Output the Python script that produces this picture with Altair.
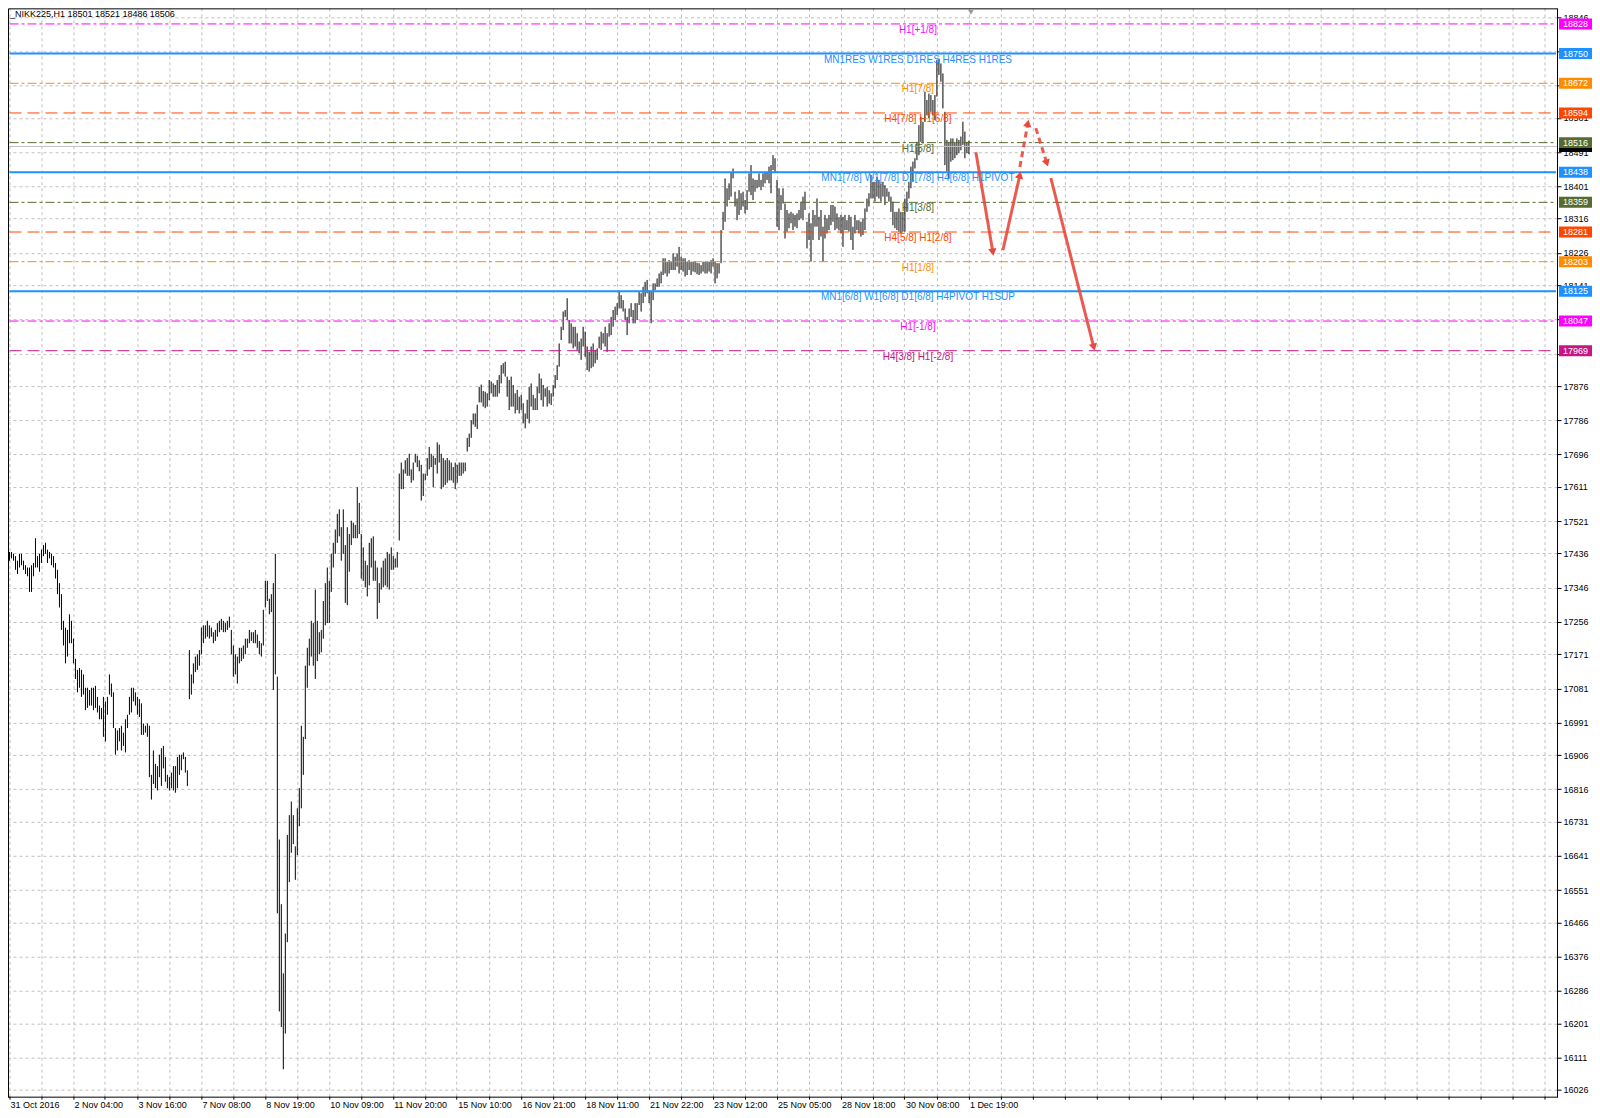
import json
import math
import altair as alt
import pandas as pd

# ---------------- bar data (high / low of each H1 bar) -------------
HIGH_A = [17440,17440,17435,17429,17417,17435,17435,17417,17405,17399,
          17399,17405,17411,17476,17429,17435,17446,17458,17464,17446,
          17440,17435,17429,17411,17393,17358,17329,17259,17241,17235,
          17276,17259,17212,17159,17130,17135,17130,17118,17083,17083,
          17077,17083,17083,17088,17059,17036,17030,17059,17047,17059,
          17118,17094,17071,16977,16971,16977,16983,16965,17000,17012,
          17059,17083,17083,17071,17059,17053,17042,16989,16983,16989,
          16983,16854,16918,16883,16877,16907,16924,16930,16901,16854,
          16848,16860,16877,16877,16901,16907,16907,16913,16901,16866]
LOW_A = [17417,17423,17417,17393,17382,17399,17405,17393,17382,17376,
         17335,17335,17376,17399,17399,17388,17411,17429,17435,17411,
         17423,17405,17399,17370,17329,17294,17235,17194,17147,17165,
         17200,17200,17147,17106,17071,17083,17059,17065,17024,17030,
         17036,17036,17024,17030,17018,17000,17000,16954,16942,17012,
         17065,17059,16977,16907,16918,16942,16918,16930,16913,16977,
         17012,17018,17047,17036,17012,17006,16959,16959,16965,16954,
         16848,16789,16830,16819,16813,16848,16825,16871,16836,16819,
         16813,16819,16813,16807,16819,16854,16866,16895,16860,16825]

HIGH_B = [17182,17118,17147,17165,17171,17182,17241,17247,17247,17259,
          17247,17241,17229,17235,17253,17259,17264,17259,17253,17259,
          17270,17235,17194,17171,17165,17188,17188,17194,17212,17212,
          17235,17229,17229,17235,17223,17206,17200,17288,17364,17364,
          17317,17329,17358,17435]
LOW_B = [17053,17065,17094,17124,17130,17141,17171,17200,17212,17217,
         17212,17217,17200,17206,17217,17229,17235,17229,17229,17235,
         17241,17171,17112,17118,17094,17147,17153,17159,17171,17188,
         17200,17206,17200,17200,17188,17171,17165,17194,17294,17311,
         17276,17282,17077,17118]

HIGH_C = [17112,16684,16514,16332,16437,16696,16748,16784,16748,16666,
          16766,16819,16983,16954,17141,17188,17212,17259,17253,17341,
          17259,17229,17235,17311,17358,17399,17364,17435,17464,17499,
          17540,17552,17505,17552,17458,17505,17487,17522,17517,17511,
          17610,17569,17487,17452,17417,17405,17464,17476,17481,17417,
          17399,17358,17399,17417,17423,17440,17435,17452,17429,17423,
          17440]
LOW_C = [16490,16232,16191,16080,16174,16414,16572,16649,16672,16578,
         16643,16719,16766,16854,16948,17083,17141,17165,17141,17106,
         17153,17171,17176,17212,17247,17253,17253,17335,17399,17435,
         17464,17481,17417,17435,17306,17300,17388,17458,17476,17476,
         17476,17487,17370,17364,17347,17323,17352,17399,17364,17364,
         17264,17306,17341,17347,17352,17347,17341,17393,17393,17399,
         17399]

HIGH_D = [17646,17675,17657,17681,17687,17698,17657,17675,17698,17693,
          17681,17669,17646,17646,17687,17716,17698,17693,17687,17728,
          17722,17698,17687,17681,17687,17681,17675,17663,17675,17669,
          17675,17675,17675,17675,17740,17751,17786,17804,17804,17827,
          17874,17880,17863]
LOW_D = [17470,17605,17605,17646,17640,17640,17622,17628,17675,17663,
         17652,17575,17587,17628,17640,17657,17663,17610,17669,17646,
         17675,17605,17610,17616,17622,17628,17628,17622,17605,17622,
         17640,17640,17646,17652,17704,17716,17740,17775,17769,17763,
         17833,17833,17822]

HIGH_E = [17861,17857,17892,17888,17883,17879,17892,17905,17931,17936,
          17940,17901,17892,17901,17879,17857,17866,17848,17853,17831,
          17804,17840,
          17874,17883,17853,17844,17874,17909,17896,17879,17870,17874,
          17865,
          17857,17879,17905,17931,17988,18032,18072,18076,18107,18050,
          18041,18032,18032,18015,17993,18001,18032,18019,17980,17966,
          17980,17988,17971,17975,18006,18019,18015,18032,18015,18041,
          18058,18076,18085,18094,18124,18115,18102,18080,18058,18080,
          18094,18076,18094,18094,18124,18120,18137,18150,18155,18128,
          18124,18146,18146,18159,18172,18177,18212,18212,18203,18207,
          18203,18225,18216,18225,18242,18216,18212,18212,18203,18207,
          18203,18203,
          18205,18200,
          18199,18194,18203,18203,18203,18203,18207,18212,18203,18199,
          18199,18286,18334,18422,18396,18409,18439,18448,18387,18369,
          18391,18383,18387,18365,18391,18435,18457,18422,18418,18418,
          18435,18418,18435,18439,18439,18453,18457,18483,18475,18418,
          18396,18378,18396,18356,18339,18330,18334,18330,18326,18330,
          18339,18361,18374,18387,18308,18330,18304,18339,18326,18369,
          18321,18339,18295,18326,18317,18326,18352,18352,18348,
          18330,18320,
          18326,18321,18326,18312,18326,18321,18295,18326,18312,18312,
          18308,18317,18343]
LOW_E = [17818,17822,17839,17857,17848,17848,17848,17857,17883,17909,
         17901,17848,17813,17822,17822,17804,17813,17804,17813,17778,
         17765,17790,
         17778,17822,17813,17813,17813,17857,17839,17822,17848,17822,
         17830,
         17826,17848,17870,17892,17927,17997,18023,18058,18050,17988,
         17988,17975,17980,17971,17962,17945,17980,17953,17918,17914,
         17923,17927,17936,17945,17975,17971,17988,17980,17966,18006,
         18010,18032,18050,18063,18080,18080,18072,18050,18010,18041,
         18058,18041,18041,18050,18089,18072,18094,18111,18120,18094,
         18041,18102,18128,18137,18137,18146,18168,18172,18164,18172,
         18181,18181,18181,18190,18172,18181,18177,18164,18168,18181,
         18168,18177,
         18175,18170,
         18168,18172,18177,18172,18172,18177,18172,18190,18146,18159,
         18172,18199,18286,18308,18348,18365,18374,18422,18348,18312,
         18326,18339,18348,18330,18339,18387,18378,18365,18387,18396,
         18400,18391,18400,18409,18418,18409,18383,18444,18439,18295,
         18286,18339,18356,18264,18282,18291,18304,18286,18295,18291,
         18312,18317,18312,18339,18238,18260,18203,18260,18295,18295,
         18260,18269,18203,18264,18277,18286,18299,18308,18286,
         18290,18285,
         18277,18242,18286,18286,18282,18260,18234,18277,18286,18277,
         18269,18273,18286]

HIGH_F = [18369,18383,18431,18413,18413,18426,18418,18409,18413,18404,
          18396,18387,18374,18361,18334,18334,18343,18334,18334,18369,
          18387,18413,18453,18466,18475,18518,18562,18584,18571,18650,
          18628,18645,18641,18628,18641,18733,18737,18724,18698,18597,
          18523,18518,18527,18527,18518,18527,18523,18532,18571,18545,
          18518,18521]
LOW_F = [18334,18348,18369,18369,18361,18374,18369,18361,18374,18352,
         18374,18361,18334,18299,18291,18286,18282,18277,18282,18282,
         18334,18369,18396,18413,18448,18470,18483,18518,18514,18571,
         18588,18580,18597,18588,18575,18637,18694,18676,18606,18457,
         18440,18422,18466,18470,18475,18483,18488,18496,18510,18475,
         18488,18486]

HIGHS = HIGH_A + HIGH_B + HIGH_C + HIGH_D + HIGH_E + HIGH_F
LOWS = LOW_A + LOW_B + LOW_C + LOW_D + LOW_E + LOW_F

HEADER = "_NIKK225,H1  18501 18521 18486 18506"

# ---------------- axes ---------------------------------------------------------------------
Y_TICKS = [16026, 16111, 16201, 16286, 16376, 16466, 16551, 16641, 16731, 16816,
           16906, 16991, 17081, 17171, 17256, 17346, 17436, 17521, 17611, 17696,
           17786, 17876, 17961, 18051, 18141, 18226, 18316, 18401, 18491, 18581,
           18666, 18756, 18846]
# tick labels that sit completely under a coloured price tag in the reference
Y_TICKS_COVERED = [17961, 18051, 18666, 18756]
X_LABELS = ["31 Oct 2016", "2 Nov 04:00", "3 Nov 16:00", "7 Nov 08:00", "8 Nov 19:00",
            "10 Nov 09:00", "11 Nov 20:00", "15 Nov 10:00", "16 Nov 21:00", "18 Nov 11:00",
            "21 Nov 22:00", "23 Nov 12:00", "25 Nov 05:00", "28 Nov 18:00", "30 Nov 08:00",
            "1 Dec 19:00"]
BARS_PER_LABEL = 32
BARS_PER_GRID = 16

# ---------------- Murrey-math style levels ---------------------------------------------------
LEVEL_PRICES = [18828, 18750, 18672, 18594, 18516, 18438, 18359, 18281, 18203, 18125, 18047, 17969]
LEVEL_LABELS = ["H1[+1/8]", "MN1RES W1RES D1RES H4RES H1RES", "H1[7/8]", "H4[7/8] H1[6/8]",
                "H1[5/8]", "MN1[7/8] W1[7/8] D1[7/8] H4[6/8] H1PIVOT", "H1[3/8]",
                "H4[5/8] H1[2/8]", "H1[1/8]", "MN1[6/8] W1[6/8] D1[6/8] H4PIVOT H1SUP",
                "H1[-1/8]", "H4[3/8] H1[-2/8]"]
LEVEL_COLORS = ["#ff00ff", "#1e90ff", "#ff8c00", "#ff4500", "#556b2f", "#1e90ff",
                "#556b2f", "#ff4500", "#ff8c00", "#1e90ff", "#ff00ff", "#c71585"]
LEVEL_STYLES = ["dashdot", "solid", "dashdot", "dash", "dashdot", "solid",
                "dashdot", "dash", "dashdot", "solid", "dashdot", "dash"]
BID_PRICE = 18506

# ---------------- forecast arrows (bar index, price) -----------------------------------------
ARROW_X1 = [483.5, 497.0, 505.5, 513.5, 521.0]
ARROW_Y1 = [18491, 18233, 18452, 18554, 18423]
ARROW_X2 = [492.0, 505.5, 509.5, 519.0, 542.5]
ARROW_Y2 = [18228, 18431, 18567, 18462, 17978]
ARROW_DASHED = [False, False, True, True, False]

# ---------------- layout ----------------------------------------------------------------------
W, H = 1550, 1089
XDOM = [-0.75, 774.25]
YDOM = [16008, 18869]
LABEL_BAR = 454.5
SHIFT_BAR = 481
FONT = "Liberation Sans"
ARROW_COLOR = "#e8483d"

px_per_bar = W / (XDOM[1] - XDOM[0])
px_per_price = H / (YDOM[1] - YDOM[0])

xs = alt.Scale(domain=XDOM, nice=False, zero=False)
ys = alt.Scale(domain=YDOM, nice=False, zero=False)

bars_df = pd.DataFrame({"i": list(range(len(HIGHS))), "hi": HIGHS, "lo": LOWS[:len(HIGHS)]})

label_arr = []
for k in range(0, 775, BARS_PER_GRID):
    if k % BARS_PER_LABEL == 0 and k // BARS_PER_LABEL < len(X_LABELS):
        label_arr.append(X_LABELS[k // BARS_PER_LABEL])
    else:
        label_arr.append("")
label_expr = json.dumps(label_arr) + "[round(datum.value/%d)] || ''" % BARS_PER_GRID
y_label_expr = "indexof(%s, datum.value) >= 0 ? '' : datum.label" % json.dumps(Y_TICKS_COVERED)

x_axis = alt.Axis(values=list(range(0, 775, BARS_PER_GRID)), labelExpr=label_expr,
                  labelAlign="left", labelOffset=1, labelFont=FONT, labelFontSize=9,
                  labelColor="black", tickSize=3, tickColor="black", domain=False,
                  translate=0,
                  grid=True, gridColor="#c0c0c0", gridDash=[3, 3], labelOverlap=False,
                  labelFlush=False, labelPadding=1, title=None)
y_axis = alt.Axis(orient="right", values=Y_TICKS, format="d", labelExpr=y_label_expr,
                  labelFont=FONT, labelFontSize=9,
                  labelColor="black", tickSize=4, tickColor="black", domainColor="black",
                  grid=True, gridColor="#c0c0c0", gridDash=[3, 3], labelOverlap=False,
                  labelFlush=False, labelPadding=2, title=None)


def X(field):
    return alt.X(field, scale=xs, axis=x_axis)


def Y(field):
    return alt.Y(field, scale=ys, axis=y_axis)


levels_df = pd.DataFrame({"price": LEVEL_PRICES, "label": LEVEL_LABELS,
                          "color": LEVEL_COLORS, "style": LEVEL_STYLES})
levels_df["lx"] = LABEL_BAR
levels_df["top"] = levels_df["price"] + 5.5 / px_per_price
levels_df["bot"] = levels_df["price"] - 5.5 / px_per_price
levels_df["txt"] = levels_df["price"].astype(str)

bid_df = pd.DataFrame({"price": [BID_PRICE], "txt": [str(BID_PRICE)]})
bid_df["top"] = bid_df["price"] + 5.5 / px_per_price
bid_df["bot"] = bid_df["price"] - 5.5 / px_per_price

arrows_df = pd.DataFrame({"x1": ARROW_X1, "y1": ARROW_Y1, "x2": ARROW_X2, "y2": ARROW_Y2,
                          "dashed": ARROW_DASHED})
angs = []
for a, b, c, d in zip(ARROW_X1, ARROW_Y1, ARROW_X2, ARROW_Y2):
    dxp = (c - a) * px_per_bar
    dyp = -(d - b) * px_per_price
    angs.append(math.degrees(math.atan2(dxp, -dyp)) % 360)
arrows_df["ang"] = angs

header_df = pd.DataFrame({"t": [HEADER]})
shift_df = pd.DataFrame({"i": [SHIFT_BAR]})
frame_df = pd.DataFrame({"k": [0]})


def level_rules(style, dash, width):
    sub = levels_df[levels_df["style"] == style]
    kw = {"strokeWidth": width}
    if dash:
        kw["strokeDash"] = dash
    return alt.Chart(sub).mark_rule(**kw).encode(
        y=Y("price:Q"),
        color=alt.Color("color:N", scale=None),
        x=alt.value(1.5), x2=alt.value(W - 1))


# plot frame (left, top, bottom) drawn on whole pixels
frame_left = alt.Chart(frame_df).mark_rule(color="black", strokeWidth=1).encode(
    x=alt.value(0.5), y=alt.value(0.5), y2=alt.value(H + 1))
frame_top = alt.Chart(frame_df).mark_rule(color="black", strokeWidth=1).encode(
    x=alt.value(0.5), x2=alt.value(W + 1), y=alt.value(0.5))
frame_bottom = alt.Chart(frame_df).mark_rule(color="black", strokeWidth=1).encode(
    x=alt.value(0.5), x2=alt.value(W + 1), y=alt.value(H + 0.5))

bid_line = alt.Chart(bid_df).mark_rule(color="#c0c0c0", strokeWidth=1).encode(
    y=Y("price:Q"), x=alt.value(1), x2=alt.value(W))

level_text = alt.Chart(levels_df).mark_text(
    align="center", baseline="top", dy=1, font=FONT, fontSize=10).encode(
    x=X("lx:Q"), y=Y("price:Q"), text="label:N",
    color=alt.Color("color:N", scale=None))

bars = alt.Chart(bars_df).mark_rule(color="black", strokeWidth=1).encode(
    x=X("i:Q"), y=Y("hi:Q"), y2="lo:Q")

arrow_solid = alt.Chart(arrows_df[~arrows_df["dashed"]]).mark_rule(
    color=ARROW_COLOR, strokeWidth=3, opacity=0.9).encode(
    x=X("x1:Q"), y=Y("y1:Q"), x2="x2:Q", y2="y2:Q")
arrow_dash = alt.Chart(arrows_df[arrows_df["dashed"]]).mark_rule(
    color=ARROW_COLOR, strokeWidth=3, opacity=0.9, strokeDash=[6, 4]).encode(
    x=X("x1:Q"), y=Y("y1:Q"), x2="x2:Q", y2="y2:Q")
arrow_heads = alt.Chart(arrows_df).mark_point(
    shape="triangle-up", filled=True, size=70, color=ARROW_COLOR, opacity=1).encode(
    x=X("x2:Q"), y=Y("y2:Q"), angle=alt.Angle("ang:Q", scale=None))

bid_tag = alt.Chart(bid_df).mark_rect(color="black").encode(
    y=Y("top:Q"), y2="bot:Q", x=alt.value(W + 2), x2=alt.value(W + 35))
tags = alt.Chart(levels_df).mark_rect().encode(
    y=Y("top:Q"), y2="bot:Q", x=alt.value(W + 2), x2=alt.value(W + 35),
    color=alt.Color("color:N", scale=None))
tag_text = alt.Chart(levels_df).mark_text(
    align="center", baseline="middle", font=FONT, fontSize=9, color="white").encode(
    y=Y("price:Q"), x=alt.value(W + 18.5), text="txt:N")

header = alt.Chart(header_df).mark_text(
    align="left", baseline="middle", font=FONT, fontSize=9, color="black").encode(
    x=alt.value(2), y=alt.value(6), text="t:N")

shift_mark = alt.Chart(shift_df).mark_point(
    shape="triangle-down", filled=True, size=30, color="#9a9a9a", opacity=1).encode(
    x=X("i:Q"), y=alt.value(4))

chart = alt.layer(
    bars,
    bid_line,
    level_rules("dashdot", [9, 3, 3, 3], 1),
    level_rules("dash", [12, 6], 1),
    level_rules("solid", None, 2),
    level_text,
    arrow_solid, arrow_dash, arrow_heads,
    bid_tag, tags, tag_text,
    header, shift_mark,
    frame_left, frame_top, frame_bottom,
).properties(width=W, height=H, padding=0, background="white").configure_view(
    stroke=None)

chart.save("out.html", embed_options={"renderer": "svg", "actions": False})
